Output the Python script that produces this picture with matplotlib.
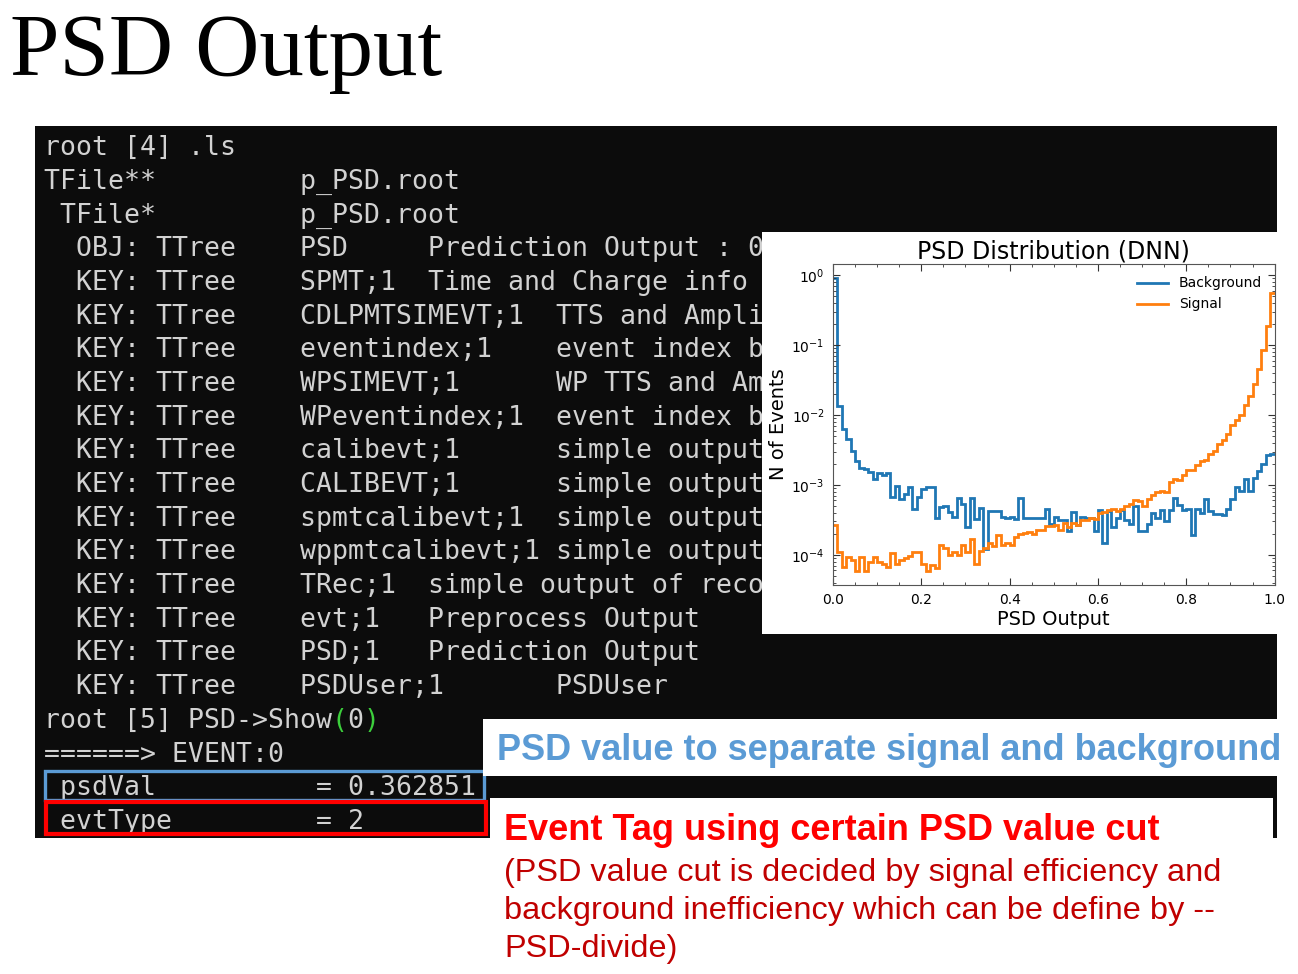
import numpy as np
import matplotlib
matplotlib.use('Agg')
import matplotlib.pyplot as plt
from matplotlib.patches import Rectangle
from matplotlib.ticker import MultipleLocator, LogLocator, NullFormatter

# histogram contents (100 bins over 0..1)
bkg = [0.92, 0.0135, 0.0064, 0.0046, 0.0031, 0.0022, 0.00174, 0.0017, 0.00153, 0.00123,
       0.0015, 0.0014, 0.0015, 0.00068, 0.00098, 0.00062, 0.00075, 0.00093, 0.00046, 0.00067,
       0.00088, 0.00093, 0.00093, 0.000335, 0.00048, 0.0005, 0.00041, 0.00035, 0.00064, 0.00053,
       0.00025, 0.00064, 0.00033, 0.00047, 0.000123, 0.00042, 0.00043, 0.00043, 0.00035, 0.00034,
       0.00035, 0.00033, 0.00064, 0.00034, 0.00034, 0.00034, 0.00034, 0.00034, 0.00045, 0.00028,
       0.00035, 0.00032, 0.00032, 0.00022, 0.00041, 0.00027, 0.00035, 0.00034, 0.00034, 0.00022,
       0.00044, 0.00015, 0.00042, 0.00025, 0.00034, 0.00044, 0.00031, 0.00028, 0.0005, 0.00022,
       0.00022, 0.00028, 0.0004, 0.00034, 0.00044, 0.0003, 0.00044, 0.00064, 0.00052, 0.00044,
       0.00045, 0.00019, 0.00046, 0.0004, 0.00062, 0.00042, 0.00039, 0.00039, 0.00037, 0.00045,
       0.00062, 0.00093, 0.00083, 0.00123, 0.00083, 0.00127, 0.0016, 0.002, 0.0027, 0.0028]
sig = [0.00027, 0.00011, 6.8e-5, 9.3e-5, 8.4e-5, 5.8e-5, 9.3e-5, 5.8e-5, 7.8e-5, 9.3e-5,
       7.8e-5, 7.3e-5, 6.8e-5, 1.07e-4, 7.4e-5, 8.4e-5, 9.0e-5, 9.6e-5, 1.1e-4, 1.1e-4,
       7.3e-5, 5.8e-5, 7.1e-5, 6.5e-5, 1.38e-4, 1.27e-4, 1.0e-4, 1.1e-4, 1.0e-4, 1.38e-4,
       1.1e-4, 1.7e-4, 7.3e-5, 1.15e-4, 1.27e-4, 1.47e-4, 1.33e-4, 1.9e-4, 1.38e-4, 1.5e-4,
       1.38e-4, 1.8e-4, 2.0e-4, 2.05e-4, 2.1e-4, 2.0e-4, 2.3e-4, 2.3e-4, 2.6e-4, 2.55e-4,
       2.7e-4, 2.3e-4, 2.9e-4, 2.5e-4, 2.9e-4, 2.7e-4, 3.2e-4, 3.1e-4, 3.4e-4, 3.3e-4,
       4.0e-4, 4.1e-4, 4.4e-4, 4.5e-4, 4.2e-4, 4.6e-4, 5.0e-4, 5.4e-4, 6.0e-4, 5.9e-4,
       5.0e-4, 6.3e-4, 7.2e-4, 8.0e-4, 8.3e-4, 8.0e-4, 1.1e-3, 1.23e-3, 1.17e-3, 1.37e-3,
       1.66e-3, 1.64e-3, 1.95e-3, 2.2e-3, 2.25e-3, 2.8e-3, 3.1e-3, 3.8e-3, 4.4e-3, 5.4e-3,
       7.1e-3, 8.4e-3, 0.0101, 0.014, 0.019, 0.028, 0.046, 0.084, 0.186, 0.565]
edges = np.linspace(0, 1, len(bkg) + 1)

# terminal screenshot text
term_lines = [
    "root [4] .ls",
    "TFile**         p_PSD.root",
    " TFile*         p_PSD.root",
    "  OBJ: TTree    PSD     Prediction Output : 0",
    "  KEY: TTree    SPMT;1  Time and Charge info",
    "  KEY: TTree    CDLPMTSIMEVT;1  TTS and Ampli",
    "  KEY: TTree    eventindex;1    event index b",
    "  KEY: TTree    WPSIMEVT;1      WP TTS and Am",
    "  KEY: TTree    WPeventindex;1  event index b",
    "  KEY: TTree    calibevt;1      simple output",
    "  KEY: TTree    CALIBEVT;1      simple output",
    "  KEY: TTree    spmtcalibevt;1  simple output",
    "  KEY: TTree    wppmtcalibevt;1 simple output",
    "  KEY: TTree    TRec;1  simple output of reco",
    "  KEY: TTree    evt;1   Preprocess Output",
    "  KEY: TTree    PSD;1   Prediction Output",
    "  KEY: TTree    PSDUser;1       PSDUser",
    "root [5] PSD->Show 0 ",
    "======> EVENT:0",
    " psdVal          = 0.362851",
    " evtType         = 2",
]
green_line = "                  ( )"
green_row = 17

note_blue = "PSD value to separate signal and background"
note_red = "Event Tag using certain PSD value cut"
note_sub = ["(PSD value cut is decided by signal efficiency and",
            "background inefficiency which can be define by --",
            "PSD-divide)"]

W, H = 1298, 974
fig = plt.figure(figsize=(W / 100, H / 100), dpi=100)
fig.patch.set_facecolor('white')

bg = fig.add_axes([0, 0, 1, 1])
bg.set_xlim(0, W)
bg.set_ylim(H, 0)
bg.axis('off')

bg.text(10, 75, "PSD Output", fontsize=64, family='Liberation Serif', va='baseline', ha='left')

# terminal background
bg.add_patch(Rectangle((35, 126), 1242, 712, facecolor='#0c0c0c', edgecolor='none', zorder=1))
mono = dict(family='DejaVu Sans Mono', fontsize=19.1, va='baseline', ha='left', zorder=2)
for i, s in enumerate(term_lines):
    bg.text(44, 155 + i * 33.7, s, color='#d2d2d2', **mono)
bg.text(44, 155 + green_row * 33.7, green_line, color='#3ccf3c', **mono)

# highlight boxes
bg.add_patch(Rectangle((45, 771), 439, 29, facecolor='none', edgecolor='#5b9bd5', lw=2.4, zorder=3))
bg.add_patch(Rectangle((46, 802), 440, 32, facecolor='none', edgecolor='#ff0000', lw=3.0, zorder=3))

# white panels covering the terminal
bg.add_patch(Rectangle((762, 232), 515, 402, facecolor='white', edgecolor='none', zorder=5))
bg.add_patch(Rectangle((483, 719), 815, 57, facecolor='white', edgecolor='none', zorder=5))
bg.add_patch(Rectangle((490, 798), 783, 176, facecolor='white', edgecolor='none', zorder=5))

bg.text(497, 760, note_blue, color='#5b9bd5', fontsize=26, fontweight='bold',
        family='Liberation Sans', va='baseline', zorder=6)
bg.text(504, 840, note_red, color='#ff0000', fontsize=26, fontweight='bold',
        family='Liberation Sans', va='baseline', zorder=6)
for i, s in enumerate(note_sub):
    bg.text(504, 881 + i * 38, s, color='#c00000', fontsize=23.4,
            family='Liberation Sans', va='baseline', zorder=6)

# inset histogram
ax = fig.add_axes([833 / W, 1 - 585 / H, 441.6 / W, 321 / H])
ax.stairs(bkg, edges, baseline=None, color='#1f77b4', lw=2.0, label='Background')
ax.stairs(sig, edges, baseline=None, color='#ff7f0e', lw=2.0, label='Signal')
ax.set_yscale('log')
ax.set_xlim(0, 1)
ax.set_ylim(3.7e-5, 1.45)
ax.xaxis.set_minor_locator(MultipleLocator(0.05))
ax.yaxis.set_minor_locator(LogLocator(base=10, subs=np.arange(2, 10)))
ax.yaxis.set_minor_formatter(NullFormatter())
ax.tick_params(which='both', direction='in', top=True, right=True, colors='#333333', labelcolor='black')
ax.tick_params(which='major', length=5, labelsize=10, pad=6)
ax.tick_params(which='minor', length=2.5)
for sp in ax.spines.values():
    sp.set_color('#555555')
ax.set_title("PSD Distribution (DNN)", fontsize=17, pad=4)
ax.set_xlabel("PSD Output", fontsize=14, labelpad=2)
ax.set_ylabel("N of Events", fontsize=14, labelpad=2)
ax.legend(loc='upper right', frameon=False, fontsize=10, handlelength=2.2)

fig.savefig('out.png', dpi=100)
